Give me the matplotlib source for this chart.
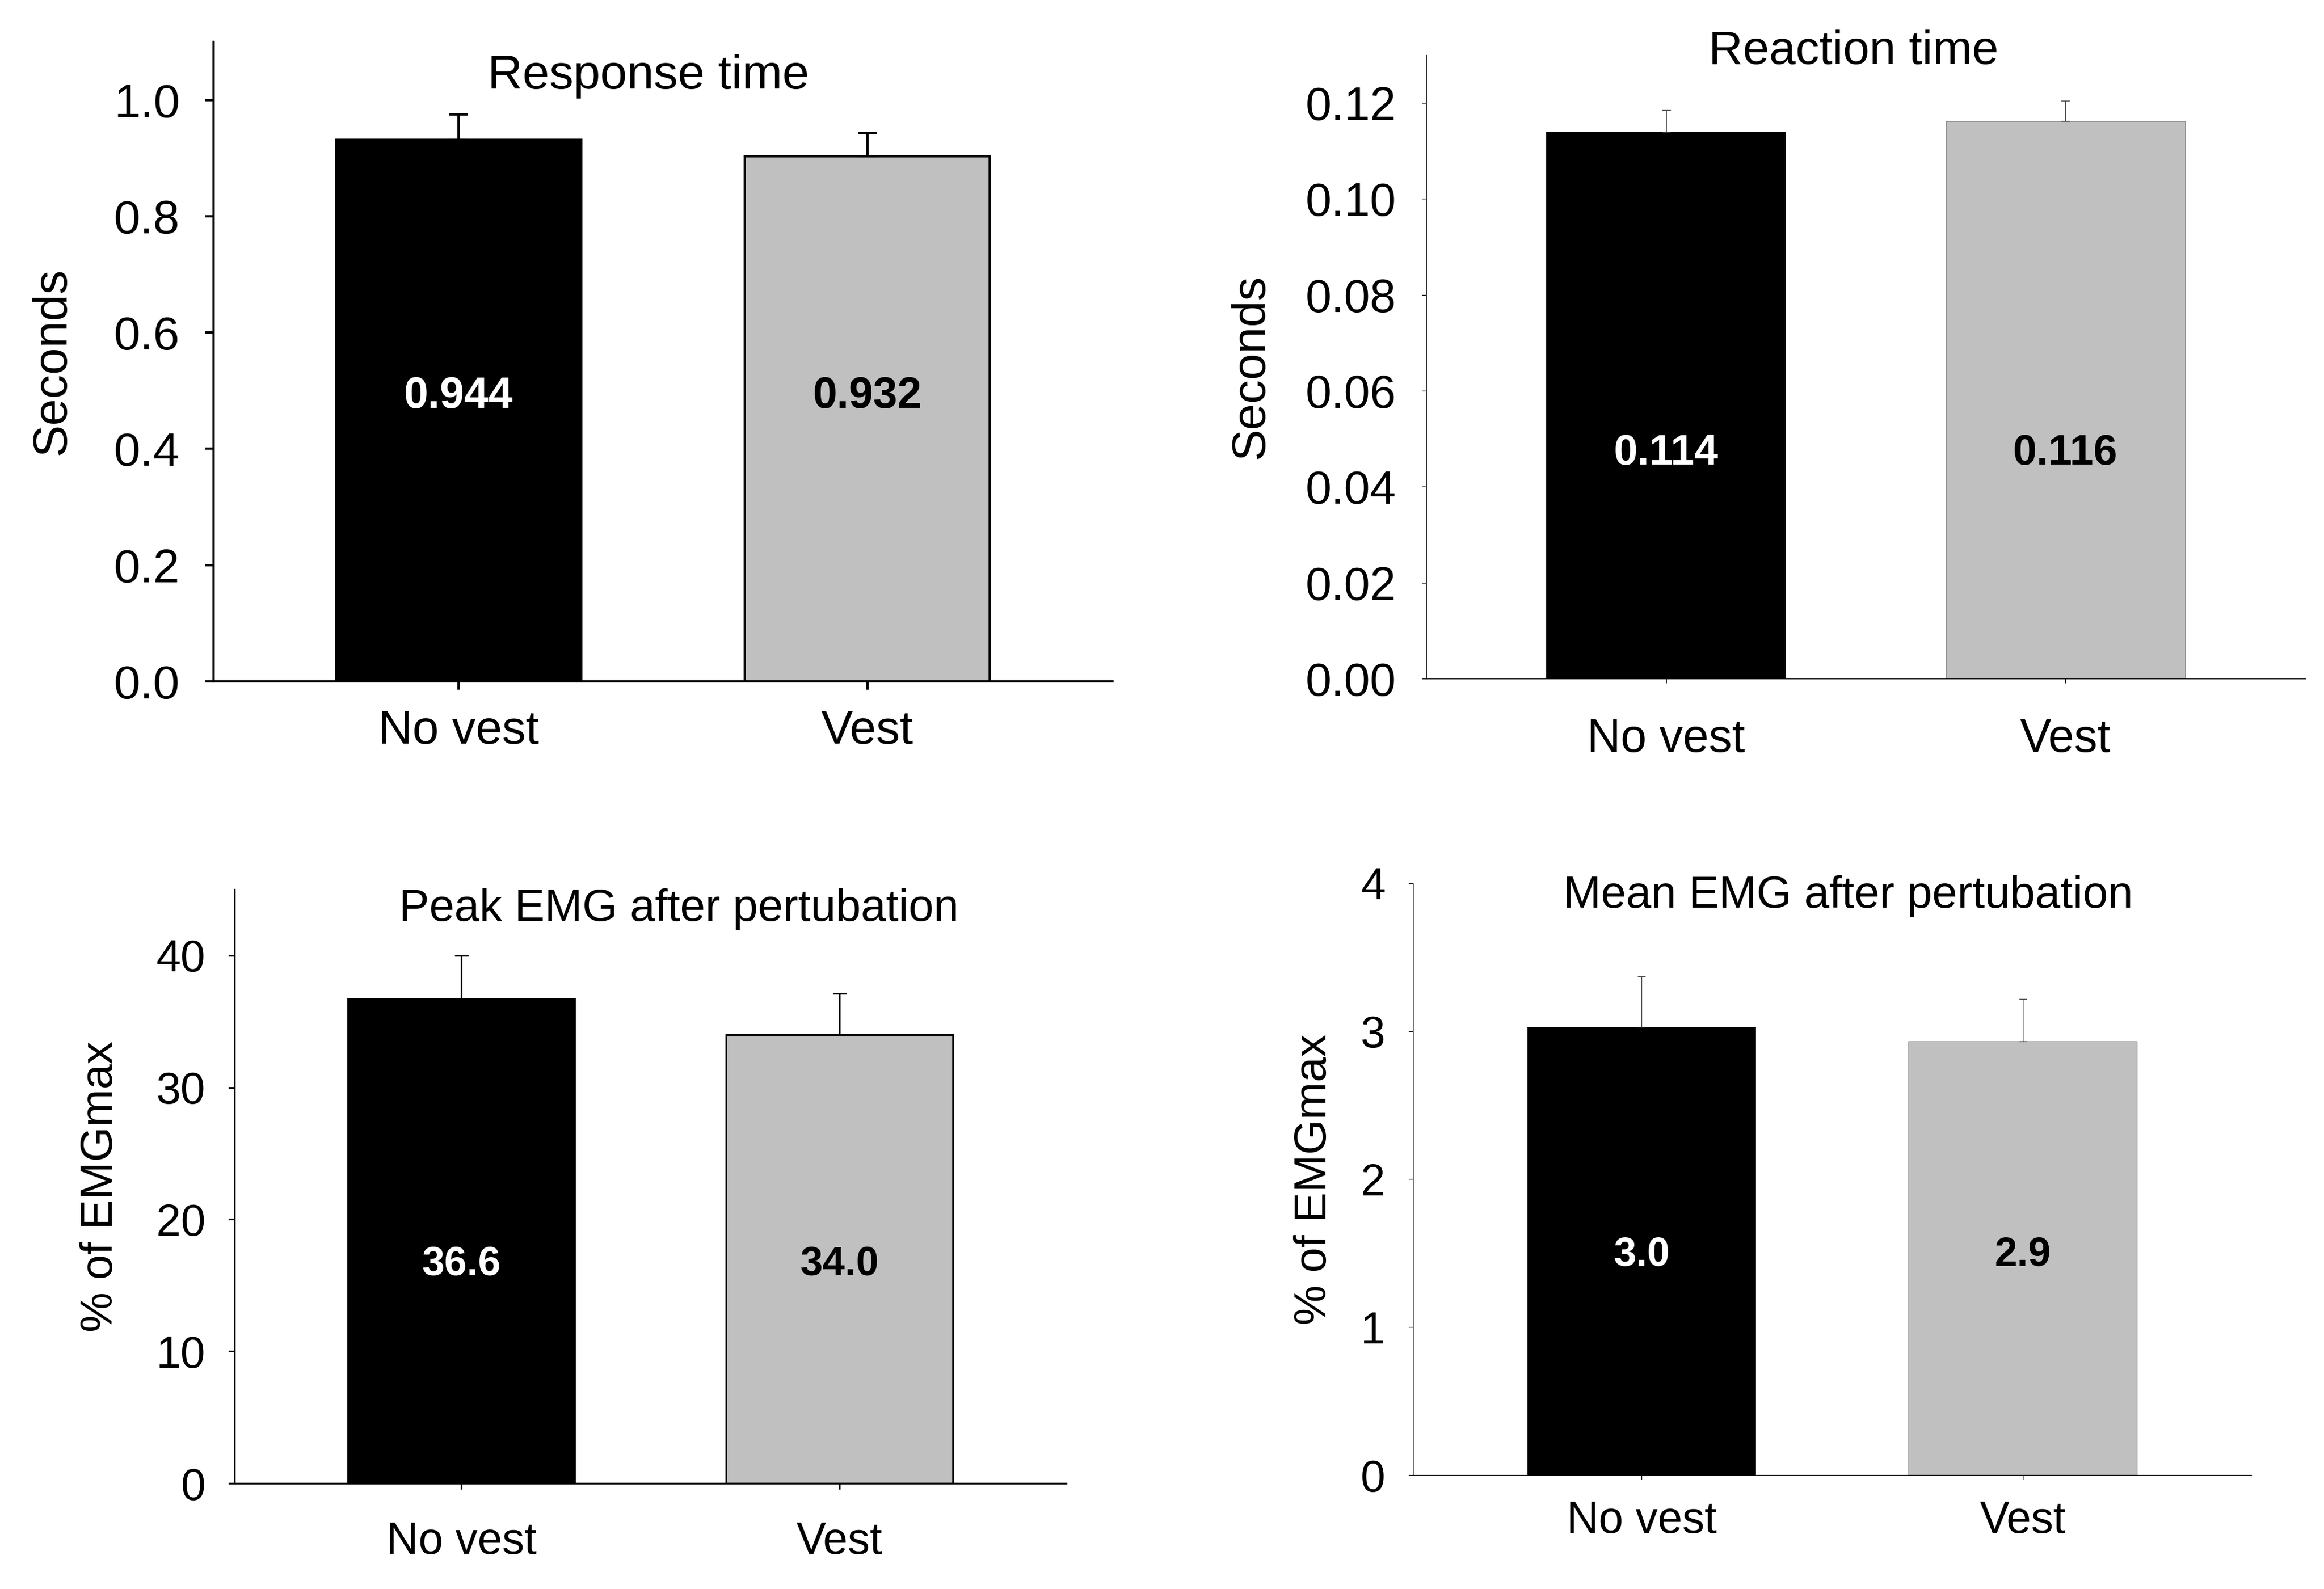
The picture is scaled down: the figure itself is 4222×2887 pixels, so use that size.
import matplotlib
matplotlib.use('Agg')
import matplotlib.pyplot as plt

plt.rcParams['font.family'] = ['Liberation Sans', 'DejaVu Sans']

# data
categories = ['No vest', 'Vest']
bar_colors = ['black', '#c0c0c0']

response_mean = [0.931, 0.903]
response_err = [0.044, 0.040]
response_text = ['0.944', '0.932']

reaction_mean = [0.1139, 0.1162]
reaction_err = [0.0046, 0.0043]
reaction_text = ['0.114', '0.116']

peak_mean = [36.7, 34.0]
peak_err = [3.3, 3.1]
peak_text = ['36.6', '34.0']

avg_mean = [3.03, 2.93]
avg_err = [0.34, 0.29]
avg_text = ['3.0', '2.9']

x = [0, 1]


def draw_panel(ax, means, errs, texts, title, ylabel, ylim, yticks, ytick_fmt,
               text_y, title_xy, ylabel_x, lw, tick_len, capsize, font,
               ypad, xpad, edge_black):
    for i in x:
        if edge_black:
            ec = 'black'
            elw = lw
        else:
            ec = 'black' if i == 0 else '#808080'
            elw = 0.0 if i == 0 else lw
        ax.bar(x[i], means[i], width=0.6, color=bar_colors[i],
               edgecolor=ec, linewidth=elw, zorder=2)
    ax.errorbar(x, means, yerr=[[0, 0], errs], fmt='none',
                ecolor='black' if edge_black else '#404040',
                elinewidth=lw, capsize=capsize, capthick=lw, zorder=3)
    for i in x:
        ax.text(x[i], text_y, texts[i], ha='center', va='center',
                fontsize=font - 5, fontweight='bold',
                color='white' if i == 0 else 'black', zorder=4)
    ax.text(title_xy[0], title_xy[1], title, ha='center', va='center',
            fontsize=font + 1)
    ax.text(ylabel_x, 0.5, ylabel, rotation=90, ha='center', va='center',
            fontsize=font + 1, transform=ax.transAxes)

    ax.set_xlim(-0.6, 1.6)
    ax.set_ylim(*ylim)
    ax.set_yticks(yticks)
    ax.set_yticklabels([ytick_fmt.format(v) for v in yticks])
    ax.set_xticks(x)
    ax.set_xticklabels(categories)
    for side in ['top', 'right']:
        ax.spines[side].set_visible(False)
    for side in ['left', 'bottom']:
        ax.spines[side].set_linewidth(lw)
    ax.tick_params(axis='y', direction='out', length=tick_len, width=lw,
                   labelsize=font, pad=ypad)
    ax.tick_params(axis='x', direction='out', length=tick_len, width=lw,
                   labelsize=font, pad=xpad)


fig = plt.figure(figsize=(42.22, 28.87), dpi=100)

ax1 = fig.add_axes([0.0919, 0.5712, 0.3868, 0.4025])
draw_panel(ax1, response_mean, response_err, response_text, 'Response time',
           'Seconds', (0, 1.1), [0.0, 0.2, 0.4, 0.6, 0.8, 1.0], '{:.1f}',
           0.49, (0.464, 1.041), -0.179, 3.0, 11, 12, 62, 33, 26, True)

ax2 = fig.add_axes([0.6137, 0.5729, 0.3782, 0.3925])
draw_panel(ax2, reaction_mean, reaction_err, reaction_text, 'Reaction time',
           'Seconds', (0, 0.13), [0.0, 0.02, 0.04, 0.06, 0.08, 0.10, 0.12],
           '{:.2f}', 0.047, (0.469, 0.1307), -0.199, 1.0, 6, 6, 61, 33, 45,
           False)

ax3 = fig.add_axes([0.1009, 0.0665, 0.3579, 0.3738])
draw_panel(ax3, peak_mean, peak_err, peak_text, 'Peak EMG after pertubation',
           '% of EMGmax', (0, 45), [0, 10, 20, 30, 40], '{:.0f}',
           16.6, (0.576, 43.5), -0.161, 2.3, 8, 9, 58, 30, 42, True)

ax4 = fig.add_axes([0.6080, 0.0717, 0.3607, 0.3724])
draw_panel(ax4, avg_mean, avg_err, avg_text, 'Mean EMG after pertubation',
           '% of EMGmax', (0, 4), [0, 1, 2, 3, 4], '{:.0f}',
           1.49, (0.542, 3.914), -0.1175, 1.0, 6, 5, 58, 30, 27, False)

fig.savefig('out.png', dpi=100, facecolor='white')
